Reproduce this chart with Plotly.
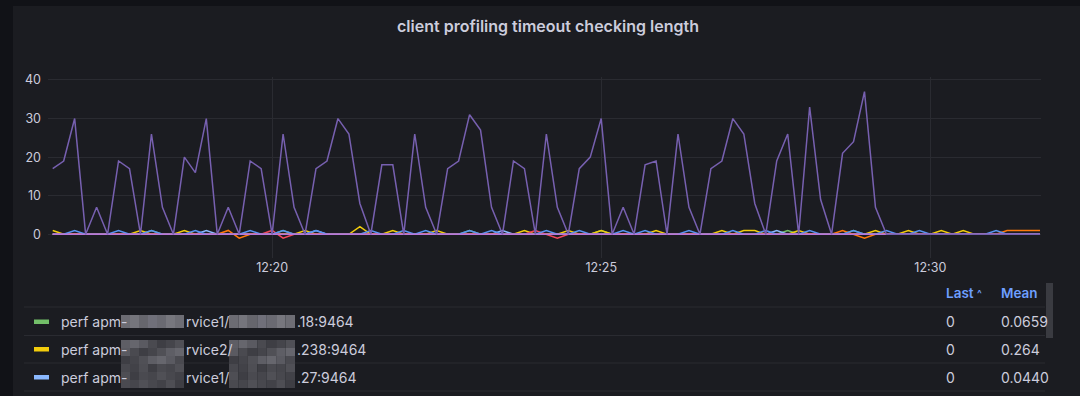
import pandas as pd
import plotly.graph_objects as go

# ---------------- data ----------------
START = "2023-01-01 12:16:40"
N_POINTS = 91
STEP = "10s"

violet = [17, 19, 30, 0, 7, 0, 19, 17, 0, 26,
          7, 0, 20, 16, 30, 0, 7, 0, 19, 17,
          0, 26, 7, 0, 17, 19, 30, 26, 8, 0,
          18, 18, 0, 26, 7, 0, 17, 19, 31, 27,
          7, 0, 19, 17, 0, 26, 7, 0, 17, 20,
          30, 0, 7, 0, 18, 19, 0, 26, 7, 0,
          17, 19, 30, 26, 8, 0, 19, 26, 0, 33,
          9, 0, 21, 24, 37, 7, 0, 0, 0, 0,
          0, 0, 0, 0, 0, 0, 0, 0, 0, 0, 0]

green = [0, 0, 0, 0, 0, 0, 0, 0, 0, 1,
         0, 0, 0, 0, 0, 0, 0, 0, 0, 0,
         0, 1, 0, 0, 0, 0, 0, 0, 0, 0,
         0, 0, 0, 0, 0, 0, 0, 0, 1, 0,
         0, 0, 0, 0, 0, 0, 0, 0, 0, 0,
         1, 0, 0, 0, 0, 0, 0, 0, 0, 0,
         0, 0, 0, 0, 0, 0, 0, 1, 0, 0,
         0, 0, 0, 1, 0, 0, 0, 0, 0, 0,
         0, 0, 0, 0, 0, 0, 0, 0, 0, 0, 0]

yellow = [1, 0, 0, 0, 0, 0, 0, 0, 1, 0,
          0, 0, 1, 0, 0, 0, 0, 0, 0, 0,
          0, 0, 0, 1, 0, 0, 0, 0, 2, 0,
          0, 1, 0, 0, 0, 1, 0, 0, 0, 0,
          0, 0, 0, 1, 0, 0, 0, 1, 0, 0,
          1, 0, 0, 0, 0, 1, 0, 0, 0, 0,
          0, 1, 0, 1, 1, 0, 0, 0, 1, 0,
          0, 0, 0, 0, 0, 1, 0, 0, 1, 0,
          0, 1, 0, 1, 0, 0, 0, 0, 0, 0, 0]

light_blue = [0, 0, 0, 0, 0, 0, 0, 0, 0, 0,
              0, 0, 0, 0, 1, 0, 0, 0, 0, 0,
              0, 0, 0, 0, 1, 0, 0, 0, 0, 0,
              0, 0, 0, 0, 0, 0, 0, 0, 0, 0,
              0, 1, 0, 0, 0, 0, 0, 0, 0, 0,
              0, 0, 0, 0, 0, 0, 0, 0, 0, 0,
              0, 0, 0, 0, 0, 0, 1, 0, 0, 0,
              0, 0, 0, 0, 0, 0, 0, 0, 0, 0,
              0, 0, 0, 0, 0, 0, 0, 0, 0, 0, 0]

orange = [0, 0, 0, 0, 0, 0, 0, 0, 0, 0,
          0, 0, 0, 0, 0, 0, 1, -1, 0, 0,
          0, 0, 0, 0, 0, 0, 0, 0, 0, 0,
          0, 0, 0, 0, 0, 0, 0, 0, 0, 0,
          0, 0, 0, 0, 0, 0, 0, 0, 0, 0,
          0, 0, 0, 0, 0, 0, 0, 0, 0, 0,
          0, 0, 0, 0, 0, 0, 0, 0, 0, 0,
          0, 0, 1, 0, -1, 0, 0, 0, 0, 0,
          0, 0, 0, 0, 0, 0, 0, 1, 1, 1, 1]

red = [0, 0, 0, 0, 0, 0, 0, 0, 0, 0,
       0, 0, 0, 0, 0, 0, 0, 0, 0, 0,
       1, -1, 0, 0, 0, 0, 0, 0, 0, 0,
       0, 0, 0, 0, 0, 0, 0, 0, 0, 0,
       0, 0, 0, 0, 1, 0, -1, 0, 0, 0,
       0, 0, 0, 0, 0, 0, 0, 0, 0, 0,
       0, 0, 0, 0, 0, 0, 0, 0, 0, 0,
       0, 0, 0, 0, 0, 0, 0, 0, 0, 0,
       0, 0, 0, 0, 0, 0, 0, 0, 0, 0, 0]

blue = [0, 0, 1, 0, 0, 0, 1, 0, 0, 1,
        0, 0, 0, 1, 0, 0, 0, 0, 1, 0,
        0, 1, 0, 0, 1, 0, 0, 0, 0, 1,
        0, 0, 1, 0, 1, 0, 0, 0, 1, 0,
        1, 0, 0, 0, 0, 1, 0, 0, 1, 0,
        0, 0, 1, 0, 1, 0, 0, 0, 1, 0,
        0, 0, 1, 0, 0, 1, 0, 0, 0, 1,
        0, 0, 0, 1, 0, 0, 1, 0, 0, 1,
        0, 0, 0, 0, 0, 0, 1, 0, 0, 0, 0]

purple = [0] * N_POINTS

series_names = ["perf-green", "perf-yellow", "perf-lightblue", "perf-orange",
                "perf-red", "perf-blue", "perf-purple", "perf-violet"]
series_values = [green, yellow, light_blue, orange, red, blue, purple, violet]
series_colors = ["#73BF69", "#F2CC0C", "#8AB8FF", "#FF780A",
                 "#F2495C", "#5794F2", "#B877D9", "#7760B0"]

y_ticks = [0, 10, 20, 30, 40]
x_tick_times = ["2023-01-01 12:20:00", "2023-01-01 12:25:00", "2023-01-01 12:30:00"]
x_tick_labels = ["12:20", "12:25", "12:30"]

title_text = "client profiling timeout checking length"
legend_colors = ["#73BF69", "#F2CC0C", "#8AB8FF"]
legend_mid = ["rvice1/", "rvice2/", "rvice1/"]
legend_tail = [".18:9464", ".238:9464", ".27:9464"]
legend_last = ["0", "0", "0"]
legend_mean = ["0.0659", "0.264", "0.0440"]

# ---------------- layout geometry (pixels) ----------------
W, H = 1080, 396
L, R, T, B = 48, 1041, 77, 258
BG = "#1b1c21"
OUTER = "#111217"
TXT = "#ccccdc"
FONT = "Inter"


def fx(px):
    return (px - L) / (R - L)


def fy(py):
    return (B - py) / (B - T)


times = pd.date_range(START, periods=N_POINTS, freq=STEP)

fig = go.Figure()
for name, vals, col in zip(series_names, series_values, series_colors):
    fig.add_trace(go.Scatter(x=times, y=vals, mode="lines", name=name,
                             line=dict(color=col, width=1.5),
                             showlegend=False, hoverinfo="skip"))

shapes = []
# outer dark frame strips
shapes.append(dict(type="rect", xref="paper", yref="paper", x0=fx(0), x1=fx(13),
                   y0=fy(0), y1=fy(H), fillcolor=OUTER, line=dict(width=0), layer="below"))
shapes.append(dict(type="rect", xref="paper", yref="paper", x0=fx(0), x1=fx(W),
                   y0=fy(0), y1=fy(6), fillcolor=OUTER, line=dict(width=0), layer="below"))

# legend table separators
for sy in [307, 335.5, 363, 391]:
    shapes.append(dict(type="line", xref="paper", yref="paper", x0=fx(24), x1=fx(1045),
                       y0=fy(sy), y1=fy(sy), line=dict(color="#2a2b31", width=1)))

# scrollbar
shapes.append(dict(type="rect", xref="paper", yref="paper", x0=fx(1046), x1=fx(1053),
                   y0=fy(283), y1=fy(338), fillcolor="#3a3b41", line=dict(width=0)))

annotations = []
row_y = [321.5, 349, 377]
# pixelated (redacted) boxes
box_shades = [["#6c6c73", "#75757c", "#66666d", "#70707a", "#6a6a72", "#77777e", "#6e6e75"],
              ["#5e5e65", "#66666d", "#5a5a61", "#4a4a50", "#3e3e44", "#45454b", "#505056"],
              ["#48484e", "#424248", "#4e4e54", "#3e3e44", "#4a4a50", "#46464c", "#505056"]]
box_rows = [(315, 328), (340, 364), (364, 388)]
for r, (by0, by1) in enumerate(box_rows):
    for bx0, bx1 in [(121, 184), (229, 295)]:
        nb = 7
        bw = (bx1 - bx0) / nb
        nrows = 1 if r == 0 else 3
        bh = (by1 - by0) / nrows
        for j in range(nrows):
            for k in range(nb):
                shade = box_shades[r][(k + 2 * j) % nb]
                shapes.append(dict(type="rect", xref="paper", yref="paper",
                                   x0=fx(bx0 + k * bw), x1=fx(bx0 + (k + 1) * bw),
                                   y0=fy(by0 + j * bh), y1=fy(by0 + (j + 1) * bh),
                                   fillcolor=shade, line=dict(width=0)))

for i in range(3):
    yy = fy(row_y[i])
    shapes.append(dict(type="rect", xref="paper", yref="paper", x0=fx(34), x1=fx(49),
                       y0=fy(row_y[i] - 2), y1=fy(row_y[i] + 2.5),
                       fillcolor=legend_colors[i], line=dict(width=0)))
    for txt, xp in [("perf apm-", 59), (legend_mid[i], 184), (legend_tail[i], 295),
                    (legend_last[i], 944), (legend_mean[i], 999)]:
        annotations.append(dict(text=txt, x=fx(xp), y=yy, xref="paper", yref="paper",
                                xanchor="left", yanchor="middle", showarrow=False,
                                font=dict(family=FONT, size=14, color=TXT)))

# legend header
for txt, xp, sz in [("Last", 944, 13.5), ("^", 975, 10), ("Mean", 999, 13.5)]:
    annotations.append(dict(text=txt, x=fx(xp), y=fy(293), xref="paper", yref="paper",
                            xanchor="left", yanchor="middle", showarrow=False,
                            font=dict(family=FONT, size=sz, color="#6E9FFF", weight=600)))

fig.update_layout(
    width=W, height=H,
    margin=dict(l=L, r=W - R, t=T, b=H - B, pad=0),
    paper_bgcolor=BG, plot_bgcolor=BG,
    title=dict(text=title_text, x=fx(548), xref="paper", xanchor="center",
               y=1 - 26 / H, yref="container", yanchor="middle",
               font=dict(family=FONT, size=16, color=TXT, weight=600)),
    xaxis=dict(range=["2023-01-01 12:16:35.7", "2023-01-01 12:31:40.9"],
               tickvals=x_tick_times, ticktext=x_tick_labels,
               showgrid=True, gridcolor="#2a2b31", gridwidth=1,
               zeroline=False, showline=False, ticks="",
               tickfont=dict(family=FONT, size=12.5, color=TXT)),
    yaxis=dict(range=[-6.14, 40.77], tickvals=y_ticks,
               showgrid=True, gridcolor="#2a2b31", gridwidth=1,
               zeroline=False, showline=False, ticks="", ticklabelstandoff=6,
               tickfont=dict(family=FONT, size=12.5, color=TXT)),
    shapes=shapes, annotations=annotations,
    showlegend=False,
)

fig.write_html(
    "out.html",
    config={"displayModeBar": False},
    post_script="document.body.style.margin='0';document.body.style.padding='0';"
                "document.body.style.background='#111217';",
)
